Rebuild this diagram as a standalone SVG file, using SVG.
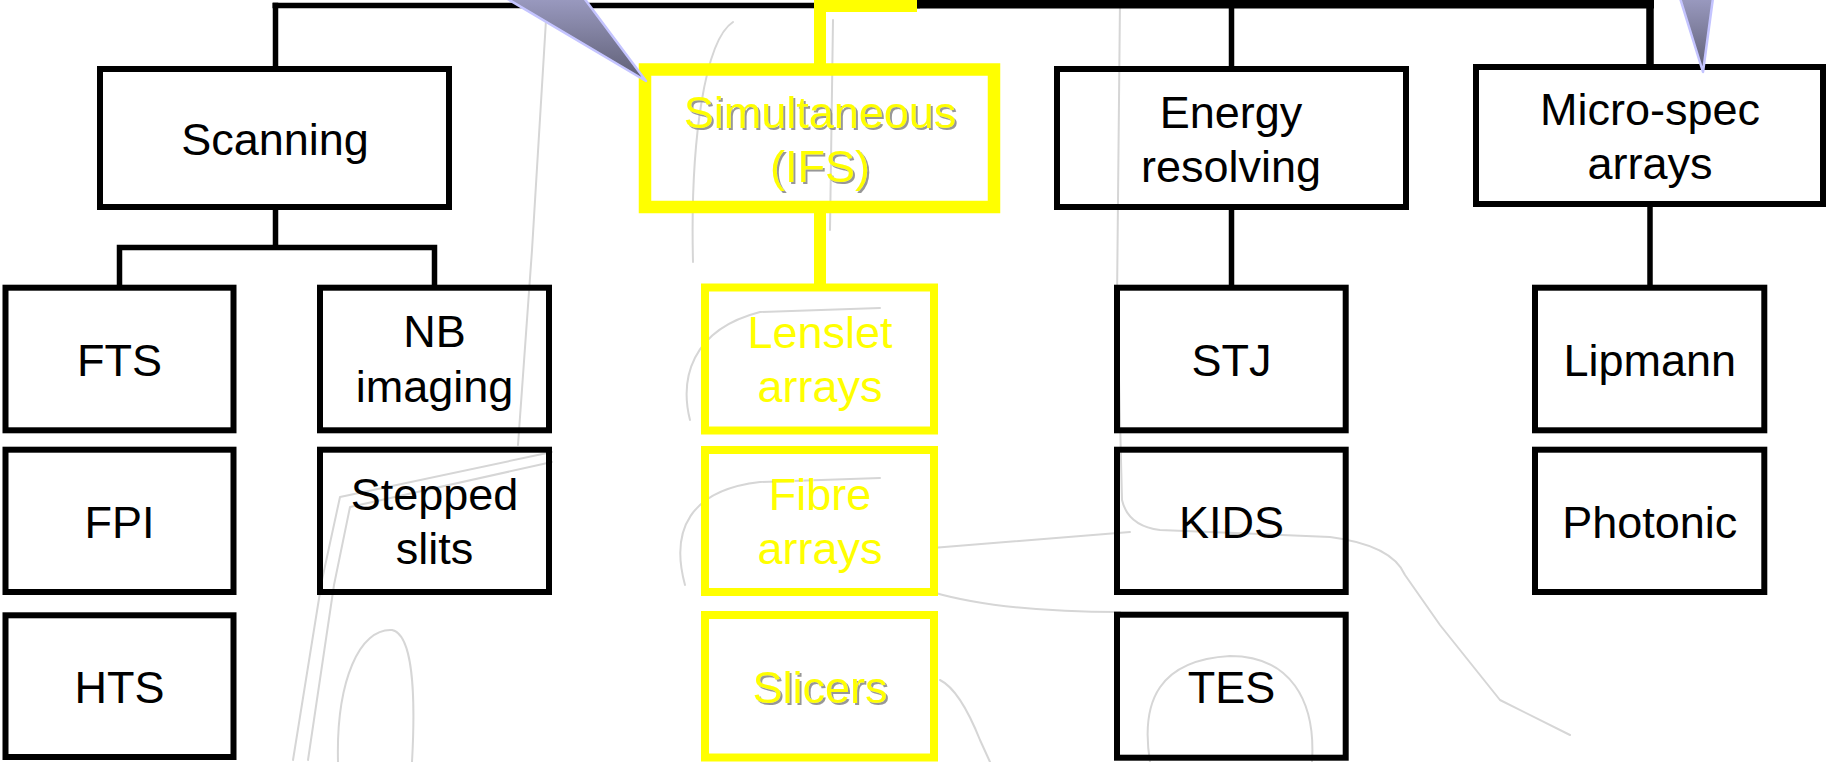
<svg xmlns="http://www.w3.org/2000/svg" width="1826" height="762" viewBox="0 0 1826 762">
  <defs>
    <linearGradient id="callout" x1="0" y1="0" x2="0" y2="1">
      <stop offset="0" stop-color="#9a9ac0"/>
      <stop offset="1" stop-color="#5e5e74"/>
    </linearGradient>
    <filter id="shadow" x="-10%" y="-10%" width="130%" height="140%">
      <feDropShadow dx="2" dy="2" stdDeviation="0.6" flood-color="#8c8c8c" flood-opacity="0.9"/>
    </filter>
  </defs>
  <style>
    .box { fill: none; stroke: #000; stroke-width: 6; }
    .ybox { fill: none; stroke: #ffff00; stroke-width: 8; }
    .ybig { fill: none; stroke: #ffff00; stroke-width: 12.5; }
    .lbl { font-family: "Liberation Sans", Arial, sans-serif; font-size: 45px; fill: #000; text-anchor: middle; }
    .ylbl { font-family: "Liberation Sans", Arial, sans-serif; font-size: 45px; fill: #ffff00; text-anchor: middle; }
    .conn { fill: none; stroke: #000; stroke-width: 5.5; }
    .yconn { fill: none; stroke: #ffff00; stroke-width: 12; }
    .sketch { fill: none; stroke: #d6d6d6; stroke-width: 2; stroke-linejoin: round; stroke-linecap: round; }
    .callout { fill: url(#callout); stroke: #c4c4ff; stroke-width: 2.5; stroke-linejoin: round; }
  </style>
  <rect x="0" y="0" width="1826" height="762" fill="#ffffff"/>

  <g id="background-sketch">
    <path class="sketch" d="M 546 20 L 532 250 L 518 445"/>
    <path class="sketch" d="M 552 452 L 340 497 L 322 580 L 293 760"/>
    <path class="sketch" d="M 552 462 L 350 507 L 334 585 L 308 760"/>
    <path class="sketch" d="M 338 762 C 336 680 360 628 392 630 C 412 634 416 690 412 762"/>
    <path class="sketch" d="M 733 22 C 705 40 690 140 693 262"/>
    <path class="sketch" d="M 833 20 L 830 230"/>
    <path class="sketch" d="M 690 420 C 680 380 690 330 760 312 L 880 308"/>
    <path class="sketch" d="M 685 585 C 670 530 690 490 760 482 L 880 478"/>
    <path class="sketch" d="M 1120 0 L 1117 300 L 1122 500 Q 1128 526 1160 530 L 1330 537 Q 1392 545 1405 575 L 1440 625 L 1500 700 L 1570 735"/>
    <path class="sketch" d="M 932 548 L 1130 532"/>
    <path class="sketch" d="M 932 592 Q 1000 612 1120 612"/>
    <path class="sketch" d="M 1150 762 C 1140 700 1160 660 1230 656 C 1290 656 1316 700 1312 762"/>
    <path class="sketch" d="M 940 680 Q 960 690 980 740 L 990 762"/>
  </g>

  <g id="connectors">
    <line class="conn" x1="272.5" y1="5.5" x2="920" y2="5.5"/>
    <line class="conn" x1="917" y1="4.2" x2="1654" y2="4.2" style="stroke-width:8.4"/>
    <line class="conn" x1="275.5" y1="2.7" x2="275.5" y2="69"/>
    <line class="conn" x1="1231.5" y1="4" x2="1231.5" y2="69"/>
    <line class="conn" x1="1650" y1="0" x2="1650" y2="67" style="stroke-width:7.5"/>
    <path class="conn" d="M 275.5 207 L 275.5 247.5 M 119.5 288 L 119.5 247.5 L 434.5 247.5 L 434.5 288"/>
    <line class="conn" x1="1231.5" y1="207" x2="1231.5" y2="288"/>
    <line class="conn" x1="1650" y1="204" x2="1650" y2="288"/>
    <rect x="814" y="0" width="103" height="12" fill="#ffff00"/>
    <line class="yconn" x1="820" y1="0" x2="820" y2="66"/>
    <line class="yconn" x1="820" y1="210" x2="820" y2="288"/>
  </g>

  <g id="scanning">
    <rect class="box" x="100" y="69" width="349" height="138"/>
    <text class="lbl" x="275" y="155">Scanning</text>
  </g>
  <g id="simultaneous">
    <rect class="ybig" x="645" y="69.5" width="349" height="137.5"/>
    <text class="ylbl" filter="url(#shadow)" x="820" y="128">Simultaneous</text>
    <text class="ylbl" filter="url(#shadow)" x="820" y="182">(IFS)</text>
  </g>
  <g id="energy">
    <rect class="box" x="1057" y="69" width="349" height="138"/>
    <text class="lbl" x="1231" y="128">Energy</text>
    <text class="lbl" x="1231" y="182">resolving</text>
  </g>
  <g id="microspec">
    <rect class="box" x="1476" y="67" width="347" height="137"/>
    <text class="lbl" x="1650" y="125">Micro-spec</text>
    <text class="lbl" x="1650" y="178.5">arrays</text>
  </g>

  <g id="fts">
    <rect class="box" x="5.5" y="287.7" width="228" height="142.6"/>
    <text class="lbl" x="119.5" y="376">FTS</text>
  </g>
  <g id="fpi">
    <rect class="box" x="5.5" y="449.7" width="228" height="142.3"/>
    <text class="lbl" x="119.5" y="537.5">FPI</text>
  </g>
  <g id="hts">
    <rect class="box" x="5.5" y="615.3" width="228" height="141.7"/>
    <text class="lbl" x="119.5" y="703">HTS</text>
  </g>
  <g id="nb-imaging">
    <rect class="box" x="320" y="287.7" width="229" height="142.6"/>
    <text class="lbl" x="434.5" y="347">NB</text>
    <text class="lbl" x="434.5" y="401.5">imaging</text>
  </g>
  <g id="stepped-slits">
    <rect class="box" x="320" y="449.7" width="229" height="142.3"/>
    <text class="lbl" x="434.5" y="510">Stepped</text>
    <text class="lbl" x="434.5" y="563.5">slits</text>
  </g>

  <g id="lenslet">
    <rect class="ybox" x="705" y="287.5" width="229" height="143"/>
    <text class="ylbl" x="820" y="348">Lenslet</text>
    <text class="ylbl" x="820" y="401.5">arrays</text>
  </g>
  <g id="fibre">
    <rect class="ybox" x="705" y="450" width="229" height="142"/>
    <text class="ylbl" x="820" y="510">Fibre</text>
    <text class="ylbl" x="820" y="563.5">arrays</text>
  </g>
  <g id="slicers">
    <rect class="ybox" x="705" y="615" width="229" height="142.5"/>
    <text class="ylbl" filter="url(#shadow)" x="820" y="703">Slicers</text>
  </g>

  <g id="stj">
    <rect class="box" x="1117" y="287.7" width="228.7" height="142.6"/>
    <text class="lbl" x="1231.5" y="376">STJ</text>
  </g>
  <g id="kids">
    <rect class="box" x="1117" y="449.7" width="228.7" height="142.3"/>
    <text class="lbl" x="1231.5" y="537.5">KIDS</text>
  </g>
  <g id="tes">
    <rect class="box" x="1117" y="614.7" width="228.7" height="143"/>
    <text class="lbl" x="1231.5" y="703">TES</text>
  </g>
  <g id="lipmann">
    <rect class="box" x="1535" y="287.7" width="229.3" height="142.6"/>
    <text class="lbl" x="1649.7" y="376">Lipmann</text>
  </g>
  <g id="photonic">
    <rect class="box" x="1535" y="449.7" width="229.3" height="142.3"/>
    <text class="lbl" x="1649.7" y="537.5">Photonic</text>
  </g>

  <g id="callouts">
    <polygon class="callout" points="506,-2 584,-2 646,81"/>
    <polygon class="callout" points="1680,-2 1713,-2 1703,72"/>
  </g>
</svg>
